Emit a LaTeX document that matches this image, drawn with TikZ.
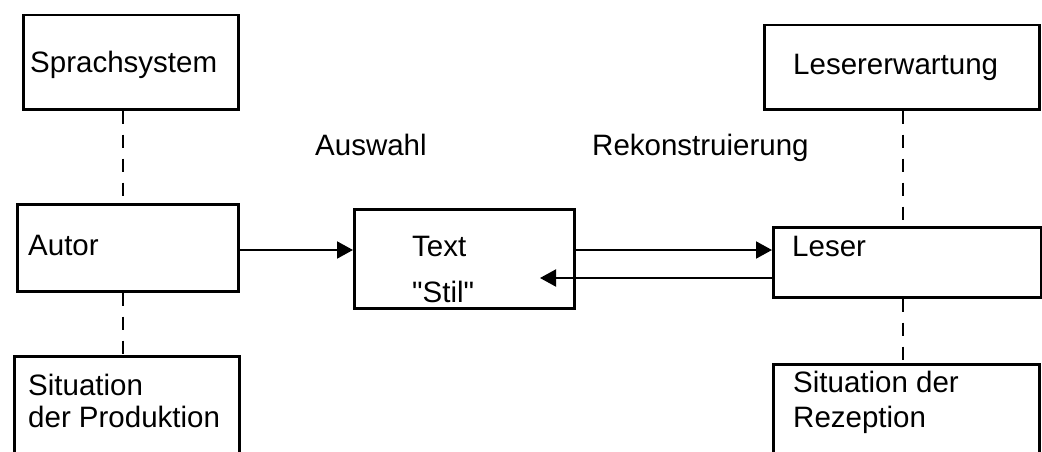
\documentclass[tikz,border=0pt]{standalone}
\usepackage{fontspec}
\setmainfont{Liberation Sans}[Ligatures=TeXOff]
\usetikzlibrary{arrows.meta}
\begin{document}
\begin{tikzpicture}[x=1pt,y=-1pt,
  box/.style={draw, line width=2.5pt, inner sep=0pt, anchor=north west},
  lbl/.style={anchor=base west, inner sep=0pt, font=\fontsize{29.5}{35}\selectfont},
  link/.style={line width=1.8pt, dash pattern=on 13pt off 11pt},
  arr/.style={line width=2pt, -{Triangle[length=16pt,width=17pt]}}]
\useasboundingbox (0,0) rectangle (1042,452);
\clip (0,0) rectangle (1042,452);

% boxes
\node[box, minimum width=215pt, minimum height=94pt] (spr) at (22,14) {};
\node[box, minimum width=221pt, minimum height=87pt] (aut) at (16,203) {};
\node[box, minimum width=225pt, minimum height=120pt] (prod) at (13,355) {};
\node[box, minimum width=220pt, minimum height=99pt] (txt) at (353,208) {};
\node[box, minimum width=275pt, minimum height=84pt] (erw) at (763,24) {};
\node[box, minimum width=268pt, minimum height=70pt] (les) at (772,226) {};
\node[box, minimum width=266pt, minimum height=120pt] (rez) at (772,363) {};

% box texts
\node[lbl] (tspr) at (30,73) {Sprachsystem};
\node[lbl] (taut) at (28,255) {Autor};
\node[lbl] (tprod1) at (28,395) {Situation};
\node[lbl] (tprod2) at (28,427) {der Produktion};
\node[lbl] (ttxt1) at (412,256) {Text};
\node[lbl] (ttxt2) at (412,302) {\symbol{34}Stil\symbol{34}};
\node[lbl] (terw) at (793,75) {Lesererwartung};
\node[lbl] (tles) at (792,256) {Leser};
\node[lbl] (trez1) at (793,392) {Situation der};
\node[lbl] (trez2) at (793,427) {Rezeption};

% arrow labels
\node[lbl] (aus) at (315,155) {Auswahl};
\node[lbl] (rek) at (592,155) {Rekonstruierung};

% dashed links
\coordinate (lx) at (123,0);
\coordinate (rx) at (903,0);
\draw[link] (spr.south -| lx) -- (aut.north -| lx);
\draw[link] (aut.south -| lx) -- (prod.north -| lx);
\draw[link] (erw.south -| rx) -- (les.north -| rx);
\draw[link] (les.south -| rx) -- (rez.north -| rx);

% arrows
\coordinate (row1) at (0,250);
\coordinate (row2) at (0,278);
\coordinate (back) at (540,278);
\draw[arr] (aut.east |- row1) -- (txt.west |- row1);
\draw[arr] (txt.east |- row1) -- (les.west |- row1);
\draw[arr] (les.west |- row2) -- (back);
\end{tikzpicture}
\end{document}
